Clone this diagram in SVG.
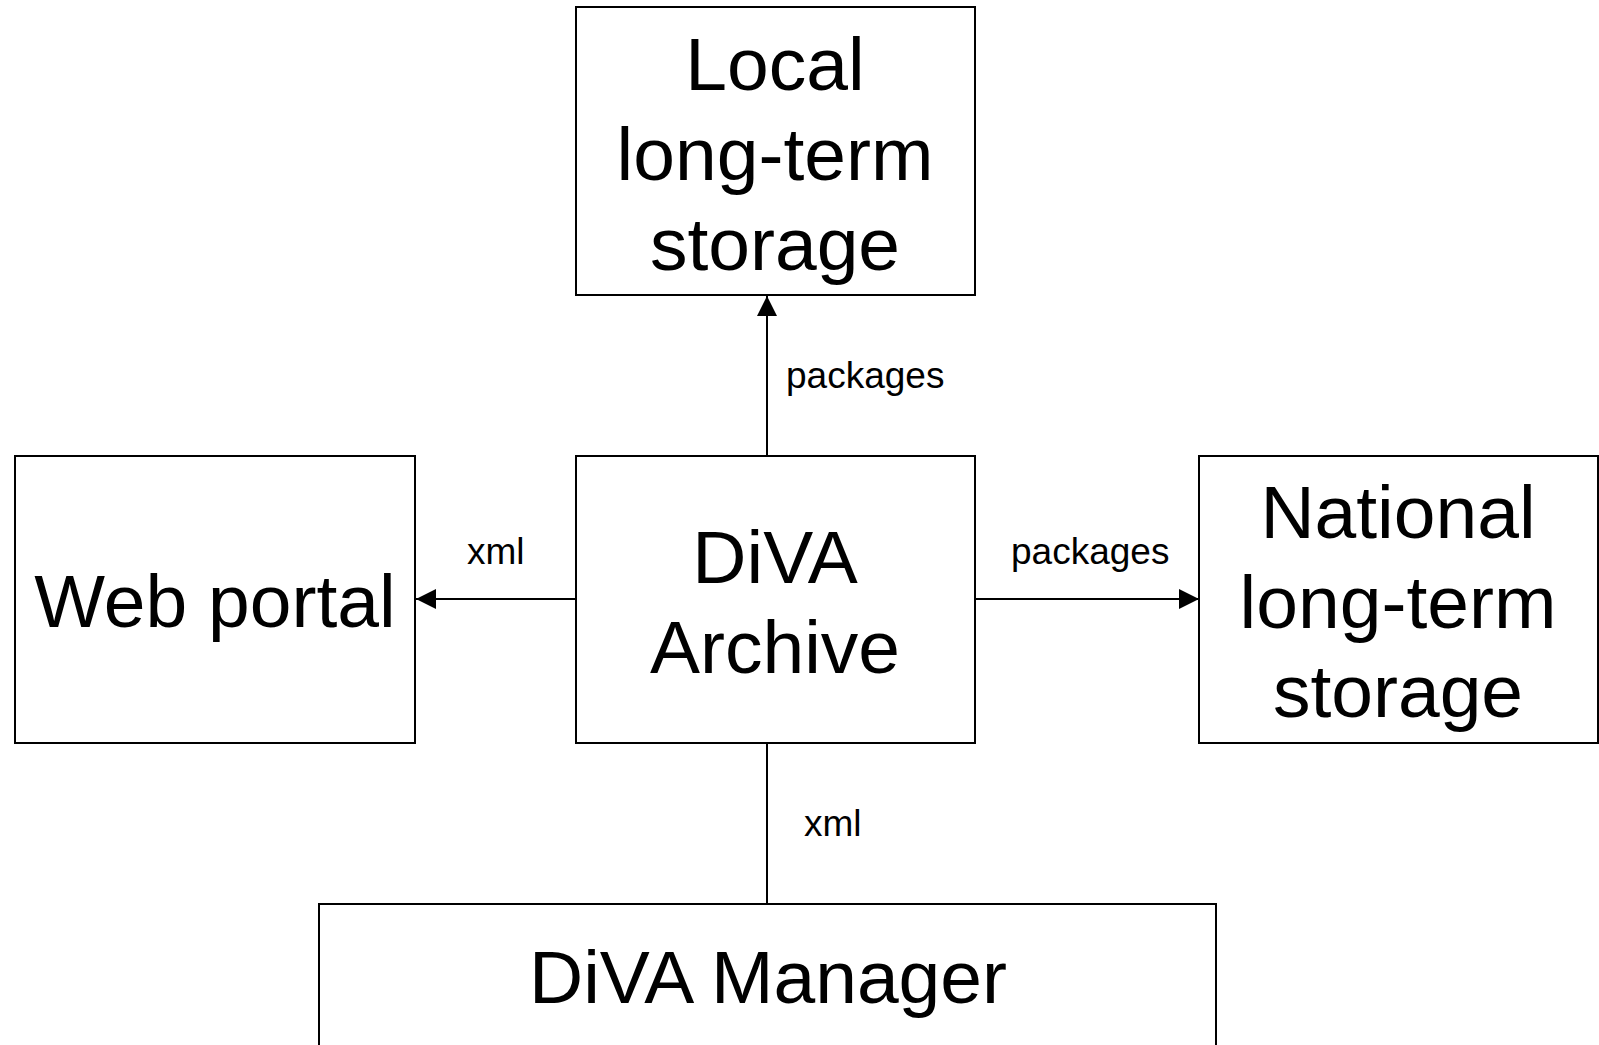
<svg xmlns="http://www.w3.org/2000/svg" width="1599" height="1045" viewBox="0 0 1599 1045">
<style>
.box{fill:#fff;stroke:#000;stroke-width:2}
.big{font-family:"Liberation Sans",Arial,sans-serif;font-size:75px;fill:#000;text-anchor:middle}
.lbl{font-family:"Liberation Sans",Arial,sans-serif;font-size:37px;fill:#000}
.conn{stroke:#000;stroke-width:2;fill:none}
</style>
<defs>
<marker id="arr" viewBox="0 0 20 20" refX="20" refY="10" markerWidth="20" markerHeight="20" markerUnits="userSpaceOnUse" orient="auto">
<path d="M0,0 L20,10 L0,20 Z" fill="#000"/>
</marker>
</defs>
<rect width="1599" height="1045" fill="#fff"/>
<g id="connectors">
<line class="conn" x1="767" y1="456" x2="767" y2="296" marker-end="url(#arr)"/>
<line class="conn" x1="576" y1="599" x2="416" y2="599" marker-end="url(#arr)"/>
<line class="conn" x1="975" y1="599" x2="1199" y2="599" marker-end="url(#arr)"/>
<line class="conn" x1="767" y1="743" x2="767" y2="904"/>
<text class="lbl" x="786" y="388">packages</text>
<text class="lbl" x="467" y="564">xml</text>
<text class="lbl" x="1011" y="564">packages</text>
<text class="lbl" x="804" y="836">xml</text>
</g>
<g id="local">
<rect class="box" x="576" y="7" width="399" height="288"/>
<text class="big" x="775" y="90">Local</text>
<text class="big" x="775" y="180">long-term</text>
<text class="big" x="775" y="270">storage</text>
</g>
<g id="webportal">
<rect class="box" x="15" y="456" width="400" height="287"/>
<text class="big" x="215" y="627">Web portal</text>
</g>
<g id="archive">
<rect class="box" x="576" y="456" width="399" height="287"/>
<text class="big" x="775" y="583">DiVA</text>
<text class="big" x="775" y="673">Archive</text>
</g>
<g id="national">
<rect class="box" x="1199" y="456" width="399" height="287"/>
<text class="big" x="1398" y="538">National</text>
<text class="big" x="1398" y="628">long-term</text>
<text class="big" x="1398" y="717">storage</text>
</g>
<g id="manager">
<rect class="box" x="319" y="904" width="897" height="160"/>
<text class="big" x="768" y="1003">DiVA Manager</text>
</g>
</svg>
